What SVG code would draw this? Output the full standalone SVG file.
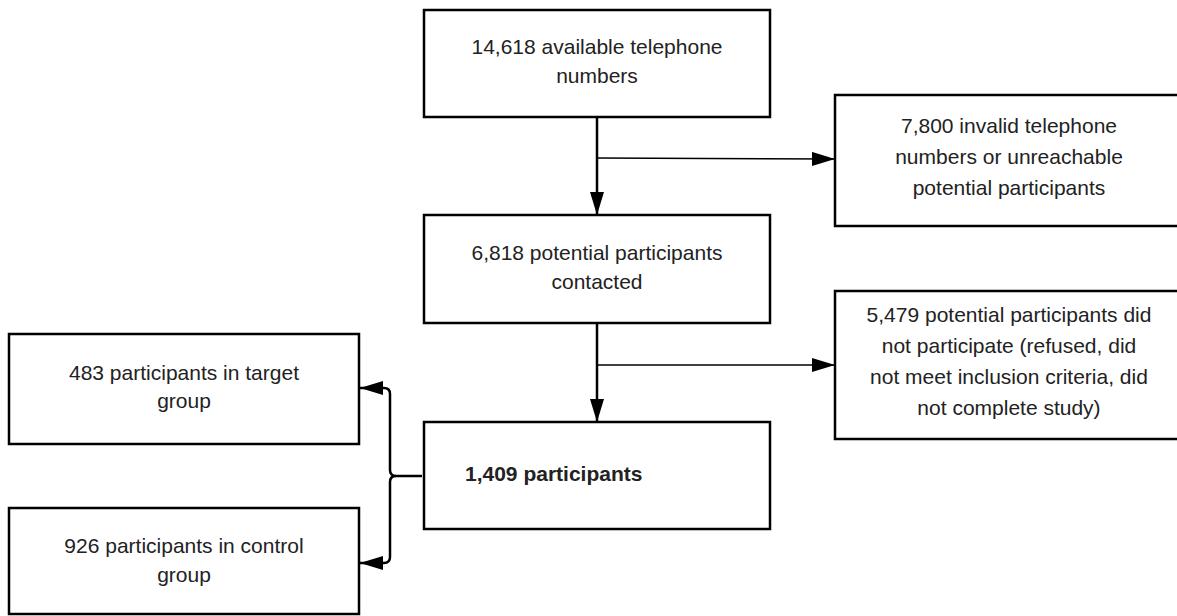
<svg xmlns="http://www.w3.org/2000/svg" width="1177" height="616" viewBox="0 0 1177 616">
<defs>
<marker id="ah" viewBox="0 0 23 14" refX="23" refY="7" markerWidth="23" markerHeight="14" markerUnits="userSpaceOnUse" orient="auto">
<path d="M0,0 L23,7 L0,14 Z" fill="#000"/>
</marker>
</defs>
<style>
.box{fill:#fff;stroke:#000;stroke-width:2.5}
.t{font-family:"Liberation Sans",Arial,sans-serif;font-size:21px;fill:#222;text-anchor:middle}
.b{font-weight:bold;text-anchor:start}
.c{fill:none;stroke:#000}
.v{stroke-width:2.5}
.h{stroke-width:1.6}
</style>
<rect width="1177" height="616" fill="#fff"/>
<g id="connectors">
<path class="c v" d="M597,117 V215" marker-end="url(#ah)"/>
<path class="c h" d="M597,158 L835,159" marker-end="url(#ah)"/>
<path class="c v" d="M597,323 V422" marker-end="url(#ah)"/>
<path class="c h" d="M597,365 H835" marker-end="url(#ah)"/>
<path class="c v" d="M422,476 H396 Q390,476 390,470 V394 Q390,388 384,388 H360" marker-end="url(#ah)"/>
<path class="c v" d="M396,476 Q390,476 390,482 V557 Q390,563 384,563 H360" marker-end="url(#ah)"/>
</g>
<g id="n1">
<rect class="box" x="424" y="10" width="346" height="107"/>
<text class="t" x="597" y="54">14,618 available telephone</text>
<text class="t" x="597" y="83">numbers</text>
</g>
<g id="n2">
<rect class="box" x="835" y="95" width="350" height="131"/>
<text class="t" x="1009" y="133">7,800 invalid telephone</text>
<text class="t" x="1009" y="164">numbers or unreachable</text>
<text class="t" x="1009" y="195">potential participants</text>
</g>
<g id="n3">
<rect class="box" x="424" y="215" width="346" height="108"/>
<text class="t" x="597" y="260">6,818 potential participants</text>
<text class="t" x="597" y="289">contacted</text>
</g>
<g id="n4">
<rect class="box" x="835" y="291" width="350" height="148"/>
<text class="t" x="1009" y="322">5,479 potential participants did</text>
<text class="t" x="1009" y="353">not participate (refused, did</text>
<text class="t" x="1009" y="384">not meet inclusion criteria, did</text>
<text class="t" x="1009" y="415">not complete study)</text>
</g>
<g id="n5">
<rect class="box" x="424" y="422" width="346" height="107"/>
<text class="t b" x="465" y="481">1,409 participants</text>
</g>
<g id="n6">
<rect class="box" x="9" y="334" width="350" height="110"/>
<text class="t" x="184" y="380">483 participants in target</text>
<text class="t" x="184" y="408">group</text>
</g>
<g id="n7">
<rect class="box" x="9" y="508" width="350" height="106"/>
<text class="t" x="184" y="553">926 participants in control</text>
<text class="t" x="184" y="582">group</text>
</g>
</svg>
